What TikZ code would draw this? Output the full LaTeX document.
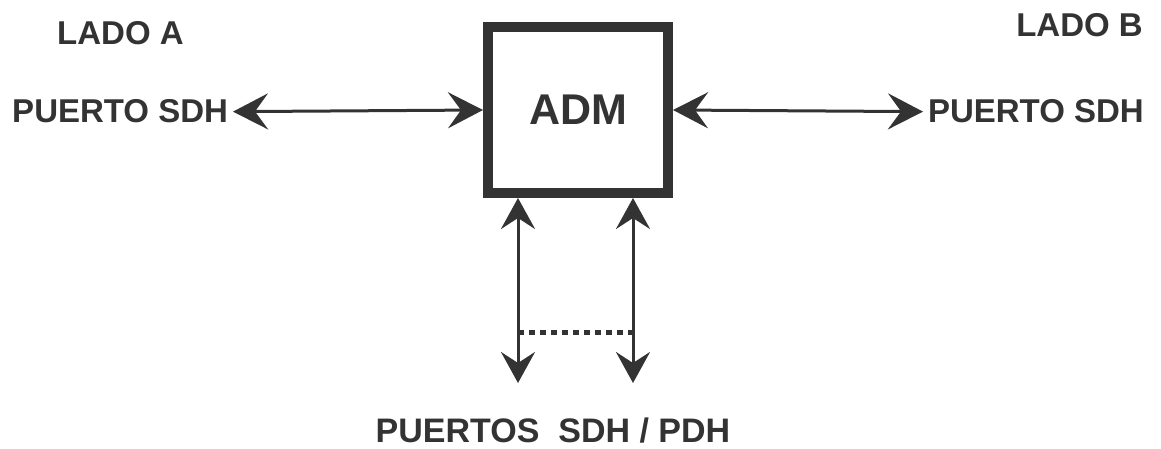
\documentclass[tikz,border=0pt]{standalone}
\usepackage{fontspec}
\setmainfont{Liberation Sans}
\usetikzlibrary{arrows.meta}
\definecolor{ink}{HTML}{333333}
\begin{document}
\begin{tikzpicture}[x=1pt,y=-1pt,
  lbl/.style={font=\bfseries\fontsize{33}{36}\selectfont, text=ink, inner sep=0pt},
  admbox/.style={draw=ink, line width=10pt, minimum width=180pt, minimum height=166pt,
     inner sep=0pt, font=\bfseries\fontsize{43}{46}\selectfont, text=ink},
  biarrow/.style={draw=ink, line width=3pt,
     {Stealth[length=35pt,width=36pt,inset=13pt]}-{Stealth[length=35pt,width=36pt,inset=13pt]}},
  vbiarrow/.style={draw=ink, line width=3pt,
     {Stealth[length=31pt,width=34pt,inset=11pt]}-{Stealth[length=31pt,width=34pt,inset=11pt]}},
  dotline/.style={draw=ink, line width=5pt, dash pattern=on 6pt off 5pt}
]
\useasboundingbox[fill=white] (0,0) rectangle (1161,449);

\node[admbox] (adm) at (578,110) {ADM};

\node[lbl, anchor=base west] (la) at (57,45) {LADO A};
\node[lbl, anchor=base east] (lb) at (1143,37) {LADO B};

\node[lbl, anchor=base east, outer sep=5pt] (pa) at (233,123) {PUERTO SDH};
\node[lbl, anchor=base west, outer sep=5pt] (pb) at (923,123) {PUERTO SDH};

\draw[biarrow] (pa.east) -- (adm.west);
\draw[biarrow] (adm.east) -- (pb.west);

\coordinate (d1) at (518,383);
\coordinate (d2) at (633,383);
\draw[vbiarrow] (d1 |- adm.south) -- (d1);
\draw[vbiarrow] (d2 |- adm.south) -- (d2);

\coordinate (m1) at (518,332);
\coordinate (m2) at (633,332);
\draw[dotline] (m1) -- (m2);

\node[lbl, font=\bfseries\fontsize{34}{38}\selectfont, anchor=base] (pp) at (553,442) {PUERTOS\ \ SDH / PDH};
\end{tikzpicture}
\end{document}
